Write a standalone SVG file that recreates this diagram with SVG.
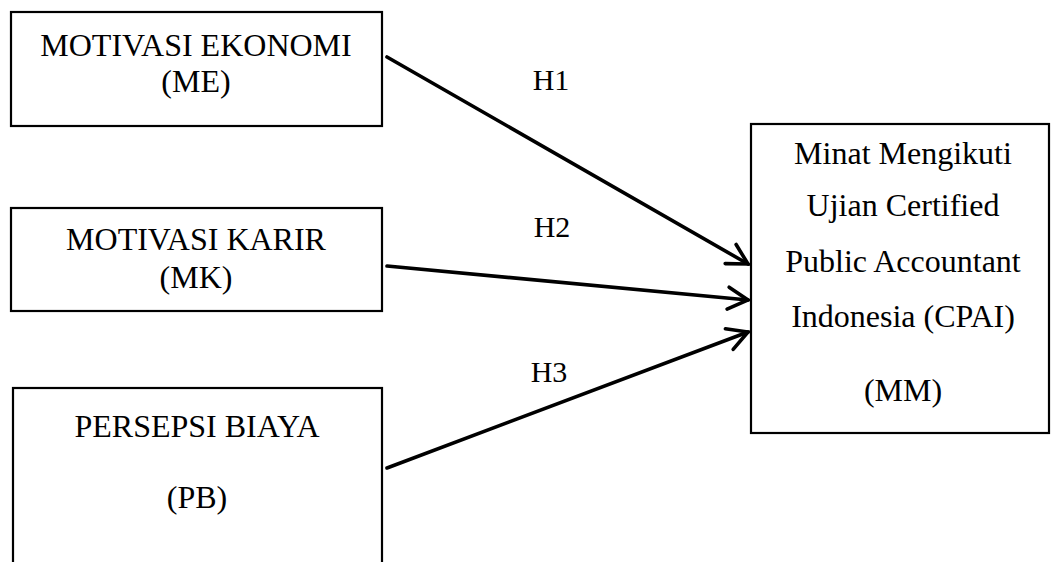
<svg xmlns="http://www.w3.org/2000/svg" width="1052" height="562" viewBox="0 0 1052 562">
<defs>
<style>
.box{fill:#fff;stroke:#000;stroke-width:2.2}
.t{font-family:"Liberation Serif","Times New Roman",serif;font-size:32px;fill:#000;text-anchor:middle}
.h{font-size:30px}
.c{stroke:#000;stroke-width:3.6;fill:none;stroke-linecap:round}
</style>
<marker id="ah" markerUnits="userSpaceOnUse" viewBox="-24 -14 28 28" markerWidth="28" markerHeight="28" refX="0" refY="0" orient="auto">
<path d="M-20,-11 L0,0 L-20,11" fill="none" stroke="#000" stroke-width="3.6" stroke-linecap="round" stroke-linejoin="miter"/>
</marker>
</defs>
<rect width="1052" height="562" fill="#fff"/>
<g id="connectors">
<line class="c" x1="387" y1="57" x2="748" y2="264" marker-end="url(#ah)"/>
<line class="c" x1="387" y1="266" x2="748" y2="300" marker-end="url(#ah)"/>
<line class="c" x1="387" y1="468" x2="748" y2="332" marker-end="url(#ah)"/>
<text class="t h" x="551" y="90">H1</text>
<text class="t h" x="552" y="237">H2</text>
<text class="t h" x="549" y="382">H3</text>
</g>
<g id="node-me">
<rect class="box" x="11" y="12" width="371" height="114"/>
<text class="t" x="196" y="56">MOTIVASI EKONOMI</text>
<text class="t" x="196" y="92">(ME)</text>
</g>
<g id="node-mk">
<rect class="box" x="11" y="208" width="371" height="103"/>
<text class="t" x="196" y="250">MOTIVASI KARIR</text>
<text class="t" x="196" y="288">(MK)</text>
</g>
<g id="node-pb">
<rect class="box" x="13" y="388" width="369" height="190"/>
<text class="t" x="197" y="437">PERSEPSI BIAYA</text>
<text class="t" x="197" y="508">(PB)</text>
</g>
<g id="node-mm">
<rect class="box" x="751" y="124" width="298" height="309"/>
<text class="t" x="903" y="164">Minat Mengikuti</text>
<text class="t" x="903" y="216">Ujian Certified</text>
<text class="t" x="903" y="272">Public Accountant</text>
<text class="t" x="903" y="327">Indonesia (CPAI)</text>
<text class="t" x="903" y="401">(MM)</text>
</g>
</svg>
